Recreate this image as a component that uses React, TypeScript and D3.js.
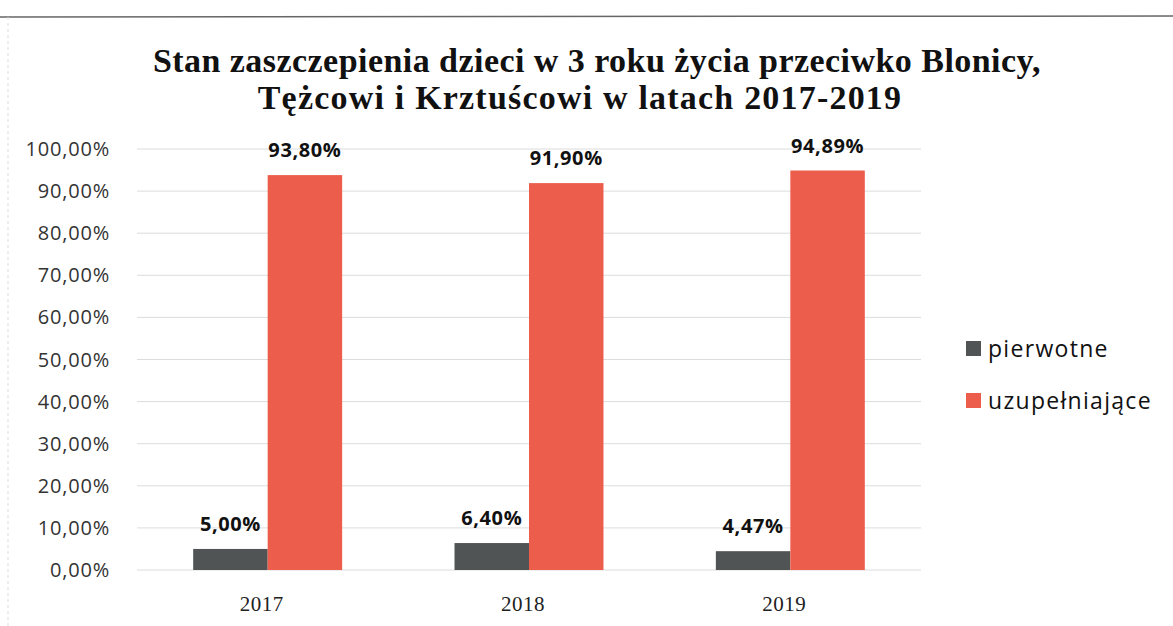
import React from "react";
import * as d3 from "d3";

const years = ["2017", "2018", "2019"];
const pierwotne = [5.0, 6.4, 4.47];
const uzupelniajace = [93.8, 91.9, 94.89];
const seriesNames = ["pierwotne", "uzupełniające"];
const yTicks = [0, 10, 20, 30, 40, 50, 60, 70, 80, 90, 100];
const titleLines = [
  "Stan zaszczepienia dzieci w 3 roku życia przeciwko Blonicy,",
  "Tężcowi i Krztuścowi w latach 2017-2019",
];

const W = 1173;
const H = 626;
const colors = ["#505454", "#ec5e4b"];

const fmt = (v: number) => v.toFixed(2).replace(".", ",") + "%";

export default function App() {
  const left = 137, right = 921, top = 149, bottom = 570;
  const x = d3.scaleBand<string>().domain(years).range([left, right]).paddingInner(0.43).paddingOuter(0.215);
  const y = d3.scaleLinear().domain([0, 100]).range([bottom, top]);
  const sub = d3.scaleBand<string>().domain(seriesNames).range([0, x.bandwidth()]);
  const series = [pierwotne, uzupelniajace];
  const titleX = [597, 580];
  return (
    <svg width={W} height={H} style={{ position: "absolute", left: 0, top: 0, background: "#fff" }}>
      <rect x={0} y={0} width={W} height={H} fill="#fff" />
      <line x1={0} x2={W} y1={17} y2={16} stroke="#666" strokeWidth={1.5} />
      <line x1={8} x2={8} y1={17} y2={H} stroke="#ddd" strokeWidth={1} strokeDasharray="3 3" />
      {titleLines.map((t, i) => (
        <text key={i} x={titleX[i]} y={72 + i * 37} textAnchor="middle" fontFamily="'Liberation Serif', serif" fontWeight="bold" fontSize={34} fill="#111" letterSpacing={i === 0 ? 0.45 : 1.2}>
          {t}
        </text>
      ))}
      {yTicks.map((t) => (
        <g key={t}>
          <line x1={left} x2={right} y1={y(t)} y2={y(t)} stroke="#dcdcdc" strokeWidth={1} />
          <text x={110} y={y(t) + 7} textAnchor="end" fontFamily="'Open Sans', sans-serif" fontSize={20} letterSpacing={0.8} fill="#333">
            {fmt(t)}
          </text>
        </g>
      ))}
      {series.map((vals, si) =>
        years.map((yr, i) => {
          const bx = (x(yr) as number) + (sub(seriesNames[si]) as number);
          const bw = sub.bandwidth();
          return (
            <g key={yr + si}>
              <rect x={bx} y={y(vals[i])} width={bw} height={y(0) - y(vals[i])} fill={colors[si]} />
              <text x={bx + bw / 2} y={y(vals[i]) - 18} textAnchor="middle" fontFamily="'Open Sans', sans-serif" fontWeight="bold" fontSize={20} letterSpacing={0.6} fill="#111">
                {fmt(vals[i])}
              </text>
            </g>
          );
        })
      )}
      {years.map((yr) => (
        <text key={yr} x={(x(yr) as number) + x.bandwidth() / 2 - 6} y={611} textAnchor="middle" fontFamily="'Liberation Serif', serif" fontSize={21} letterSpacing={0.5} fill="#222">
          {yr}
        </text>
      ))}
      {seriesNames.map((n, i) => (
        <g key={n}>
          <rect x={966} y={341 + i * 52} width={15} height={15} fill={colors[i]} />
          <text x={988} y={357 + i * 52} fontFamily="'Open Sans', sans-serif" fontSize={23} letterSpacing={1.3} fill="#111">
            {n}
          </text>
        </g>
      ))}
    </svg>
  );
}
